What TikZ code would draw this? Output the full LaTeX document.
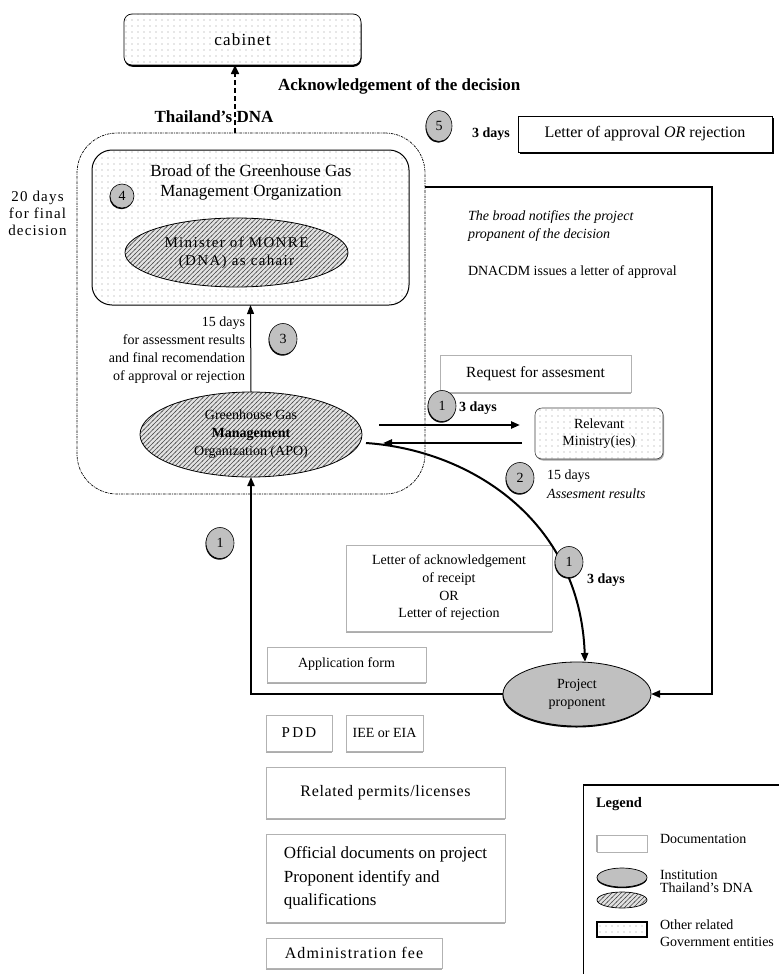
\documentclass[tikz,border=0pt]{standalone}
\usepackage{fontspec}
\setmainfont{Liberation Serif}
\usetikzlibrary{patterns,shadows,arrows.meta,shapes.geometric}
\definecolor{cgray}{RGB}{192,192,192}
\definecolor{hbg}{RGB}{226,226,226}
\pgfdeclarepatternformonly{sdots}{\pgfqpoint{-1pt}{-1pt}}{\pgfqpoint{1pt}{1pt}}{\pgfqpoint{6pt}{6pt}}{\pgfpathcircle{\pgfqpoint{0pt}{0pt}}{0.6pt}\pgfusepath{fill}}
\pgfdeclarepatternformonly{hatchne}{\pgfqpoint{-1pt}{-1pt}}{\pgfqpoint{5.5pt}{5.5pt}}{\pgfqpoint{4.5pt}{4.5pt}}{\pgfsetlinewidth{0.55pt}\pgfpathmoveto{\pgfqpoint{-0.5pt}{-0.5pt}}\pgfpathlineto{\pgfqpoint{5pt}{5pt}}\pgfusepath{stroke}}
\newcommand\fs[2]{\fontsize{#1}{#2}\selectfont}
\newcommand\lsp[1]{\addfontfeatures{LetterSpace=#1}}
\begin{document}
\begin{tikzpicture}[x=1pt,y=-1pt,
  every node/.style={inner sep=0pt, outer sep=0pt},
  dotfill/.style={preaction={fill=white}, pattern=sdots, pattern color=gray!80},
  hatch/.style={preaction={fill=hbg}, pattern=hatchne, pattern color=gray!55!black},
  docbox/.style={drop shadow={shadow xshift=0pt, shadow yshift=-2pt, fill=gray!65, opacity=1},
    draw=gray!60, line width=0.6pt, fill=white, align=center, font=\fs{14}{18}},
  blkbox/.style={drop shadow={shadow xshift=1.5pt, shadow yshift=-1.5pt, fill=black, opacity=1},
    draw=black, line width=0.7pt, fill=white, align=center},
  govbox/.style={drop shadow={shadow xshift=0.5pt, shadow yshift=-1.8pt, fill=black, opacity=1},
    dotfill, draw=black, line width=0.7pt, align=center},
  num/.style={ellipse, drop shadow={shadow xshift=-0.5pt, shadow yshift=-1.2pt, fill=black, opacity=1},
    draw=black, line width=0.6pt, fill=cgray, minimum width=28pt, minimum height=31pt, font=\fs{14}{16}},
  heavy/.style={line width=2pt},
  tip/.style={-{Triangle[length=9pt,width=7pt]}},
  inst/.style={ellipse, draw=black, line width=0.8pt, align=center},
]
\fill[white] (0,0) rectangle (779,974);
\useasboundingbox (0,0) rectangle (779,974);

% ---------- boxes and institutions ----------
\node[govbox, rounded corners=8pt, minimum width=237pt, minimum height=51pt,
  font=\fs{17}{20}\lsp{7}] (cabinet) at (242.5,39.5) {cabinet};

\node[draw, line width=0.7pt, dash pattern=on 2.5pt off 1pt on 0.8pt off 1pt,
  rounded corners=40pt, minimum width=348pt, minimum height=361pt] (dna) at (251,313.5) {};

\node[dotfill, draw=black, line width=1pt, rounded corners=20pt,
  minimum width=317pt, minimum height=155pt] (board) at (250.5,227.5) {};
\node[font=\fs{17}{20}, align=center] (boardtxt) at (251,182)
  {Broad of the Greenhouse Gas\\Management Organization};

\node[inst, hatch, minimum width=223pt, minimum height=69pt,
  font=\fs{15}{18}\lsp{9}] (monre) at (236.5,252.5) {Minister of MONRE\\(DNA) as cahair};

\node[inst, hatch, minimum width=222pt, minimum height=85pt,
  font=\fs{14}{18}] (apo) at (251,434.5) {Greenhouse Gas\\\textbf{Management}\\Organization (APO)};

\node[drop shadow={shadow xshift=1pt, shadow yshift=-1.5pt, fill=gray!70, opacity=1},
  dotfill, draw=black!75, line width=0.6pt, rounded corners=7pt, align=center,
  minimum width=128pt, minimum height=51pt, font=\fs{14}{17}] (ministry) at (599,433.5)
  {Relevant\\Ministry(ies)};

\node[docbox, minimum width=191pt, minimum height=37pt, font=\fs{15.5}{18}] (request)
  at (535.5,373.5) {Request for assesment};

\node[blkbox, minimum width=254pt, minimum height=36pt, font=\fs{16}{18}] (approval)
  at (645,134) {Letter of approval \textit{OR} rejection};

\node[docbox, minimum width=206pt, minimum height=86pt, font=\fs{14}{17.7}] (ack)
  at (449,588) {Letter of acknowledgement\\of receipt\\OR\\Letter of rejection};

\node[docbox, minimum width=159pt, minimum height=35pt] (appform) at (346.5,664.5) {Application form};

\node[inst, fill=cgray, drop shadow={shadow xshift=-0.5pt, shadow yshift=-1.5pt, fill=black, opacity=1},
  minimum width=148pt, minimum height=64pt, font=\fs{14}{18}] (proponent) at (577,694)
  {Project\\proponent};

\node[docbox, minimum width=66pt, minimum height=36pt, font=\fs{15}{18}\lsp{15}] (pdd) at (299,733) {PDD};
\node[docbox, minimum width=77pt, minimum height=36pt] (iee) at (384.5,733) {IEE or EIA};
\node[docbox, minimum width=239pt, minimum height=51pt, font=\fs{16}{18}\lsp{4}] (permits)
  at (385.5,792.5) {Related permits/licenses};
\node[docbox, minimum width=239pt, minimum height=88pt, align=left, font=\fs{17}{23.5}] (official)
  at (385.5,878) {Official documents on project\\Proponent identify and\\qualifications};
\node[docbox, minimum width=176pt, minimum height=30pt, font=\fs{16}{18}\lsp{7}] (admin)
  at (354,953) {Administration fee};

% ---------- connectors ----------
\coordinate (acktip) at ([xshift=-7.5pt]cabinet.south);
\draw[line width=1.6pt, dash pattern=on 5pt off 3pt, -{Triangle[length=9pt,width=8pt]}]
  (acktip |- dna.north) -- (acktip);
\draw[line width=1pt, tip] (apo.north) -- (board.south);
\draw[heavy, tip] (proponent.west) -| (apo.south);
\coordinate (rt) at (712,187);
\draw[heavy, tip] (rt -| dna.east) -- (rt) |- (proponent.east);
\draw[line width=2.4pt, tip] ([shift={(17,-9.5)}]apo.east) -- ([shift={(-15,-8.5)}]ministry.west);
\draw[line width=2.4pt, tip] ([shift={(-13,9.5)}]ministry.west) -- ([shift={(21,8.5)}]apo.east);
\draw[heavy, tip] ([shift={(4,8.5)}]apo.east) .. controls (470,450) and (580,520) .. ([xshift=8pt]proponent.north);

% ---------- numbered circles ----------
\node[num, minimum width=24pt, minimum height=24pt] (c4) at (122,196) {4};
\node[num] (c3) at (283,339) {3};
\node[num, minimum width=26pt] (c5) at (439,126) {5};
\node[num] (c1a) at (442,406) {1};
\node[num] (c2) at (520,478) {2};
\node[num] (c1b) at (569,562) {1};
\node[num] (c1c) at (220,543) {1};

% ---------- labels ----------
\node[font=\fs{17}{20}\bfseries, anchor=west] (ackdec) at (278,86) {Acknowledgement of the decision};
\node[font=\fs{17}{20}\bfseries] (thdna) at (214,117) {Thailand's DNA};
\node[font=\fs{15}{17}\lsp{8}, align=center] (twenty) at (37.5,213) {20 days\\for final\\decision};
\node[font=\fs{14}{18}, align=right, anchor=east] (fifteen) at (245,350)
  {15 days\\for assessment results\\and final recomendation\\of approval or rejection};
\node[font=\fs{14}{16}\bfseries] (d3a) at (491,134) {3 days};
\node[font=\fs{14}{18}\itshape, align=left, anchor=west] (notify) at (468,226)
  {The broad notifies the project\\propanent of the decision};
\node[font=\fs{14}{16}, anchor=west] (dnacdm) at (468,272) {DNACDM issues a letter of approval};
\node[font=\fs{14}{16}\bfseries] (d3b) at (478,408) {3 days};
\node[font=\fs{14}{19}, align=left, anchor=west] (assess) at (547,484.5) {15 days\\\textit{Assesment results}};
\node[font=\fs{14}{16}\bfseries] (d3c) at (606,580) {3 days};

% ---------- legend ----------
\draw[line width=1.5pt] (583,785) -- (779,785);
\draw[line width=0.6pt] (583,785) -- (583,974);
\node[font=\fs{14.5}{16}\bfseries, anchor=west] (legtitle) at (596,804) {Legend};
\node[draw=gray!60, line width=0.6pt, fill=white, minimum width=50pt, minimum height=17pt] (legdoc) at (622,843.5) {};
\draw[gray!65, line width=2pt] (legdoc.north west) -- (legdoc.south west);
\node[ellipse, draw, line width=0.7pt, fill=cgray, drop shadow={shadow xshift=0pt, shadow yshift=-1.2pt, fill=black, opacity=1},
  minimum width=50pt, minimum height=19pt] (leginst) at (622,877.5) {};
\node[ellipse, draw, line width=0.7pt, hatch, minimum width=50pt, minimum height=16pt] (leghatch) at (622,900) {};
\node[draw, line width=1.2pt, dotfill, minimum width=50pt, minimum height=15pt] (leggov) at (622,929.5) {};
\node[anchor=west, font=\fs{14}{16}] (legdoct) at (660,839) {Documentation};
\node[anchor=west, align=left, font=\fs{14}{13}] (leginstt) at (660,881.5) {Institution\\Thailand's DNA};
\node[anchor=west, align=left, font=\fs{14}{17}] (leggovt) at (660,933.5) {Other related\\Government entities};
\end{tikzpicture}
\end{document}
